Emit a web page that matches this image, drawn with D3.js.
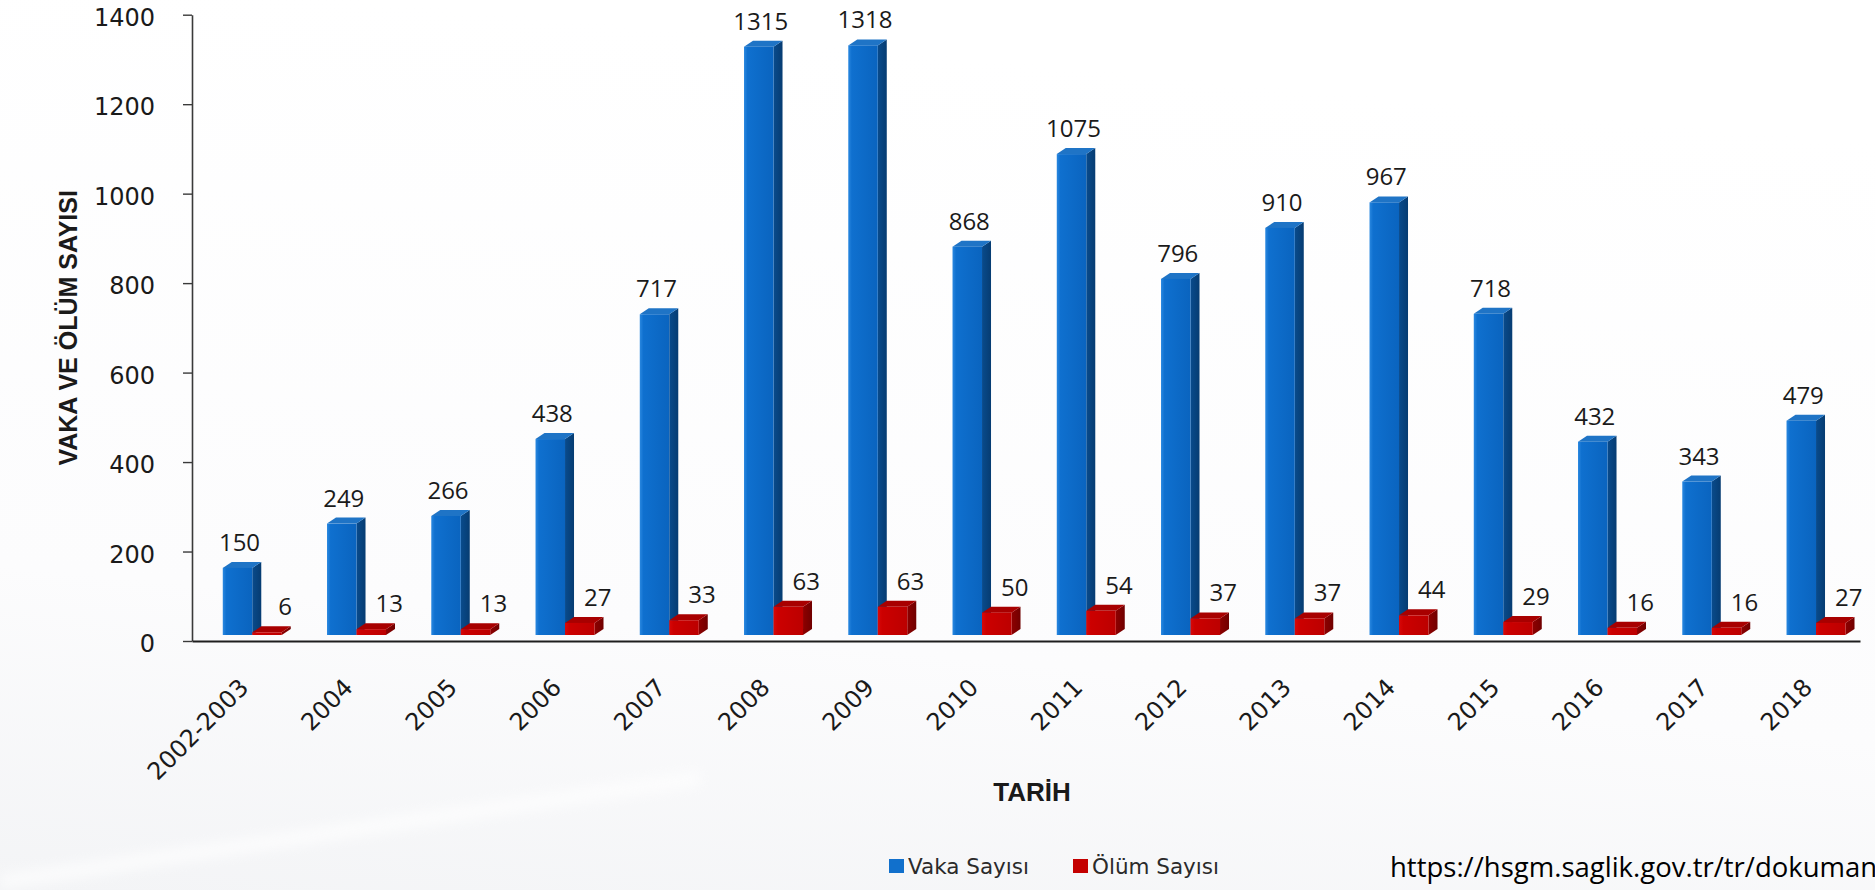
<!DOCTYPE html>
<html lang="tr">
<head>
<meta charset="utf-8">
<title>Vaka ve Ölüm Sayısı</title>
<script src="https://cdn.jsdelivr.net/npm/d3@7"></script>
<style>
  html, body { margin: 0; padding: 0; background: #ffffff; overflow: hidden; }
  svg { display: block; }
</style>
</head>
<body>
<svg id="chart" width="1875" height="890"></svg>
<script>
// Yıllara göre vaka ve ölüm sayıları
const categories = ["2002-2003", "2004", "2005", "2006", "2007", "2008", "2009", "2010",
                    "2011", "2012", "2013", "2014", "2015", "2016", "2017", "2018"];
const vakaSayisi = [150, 249, 266, 438, 717, 1315, 1318, 868, 1075, 796, 910, 967, 718, 432, 343, 479];
const olumSayisi = [6, 13, 13, 27, 33, 63, 63, 50, 54, 37, 37, 44, 29, 16, 16, 27];
const seriesNames = ["Vaka Sayısı", "Ölüm Sayısı"];
const yTicks = [0, 200, 400, 600, 800, 1000, 1200, 1400];
const yTitle = "VAKA VE ÖLÜM SAYISI";
const xTitle = "TARİH";
const sourceText = "https://hsgm.saglik.gov.tr/tr/dokuman";

const W = 1875, H = 890;
const plot = { left: 192, right: 1860, top: 14.7, bottom: 641 };
const depth = { dx: 9, dy: 6 };   // oblique 3D offset of the columns
const floorLift = 6;              // columns stand slightly above the axis line

const svg = d3.select("#chart");
const defs = svg.append("defs");

// soft slide background
const bg = defs.append("linearGradient").attr("id", "bgGrad")
  .attr("x1", "0.2").attr("y1", "0").attr("x2", "0").attr("y2", "1");
bg.append("stop").attr("offset", "0").attr("stop-color", "#ffffff");
bg.append("stop").attr("offset", "0.65").attr("stop-color", "#fcfcfd");
bg.append("stop").attr("offset", "1").attr("stop-color", "#f3f4f6");
svg.append("rect").attr("width", W).attr("height", H).attr("fill", "url(#bgGrad)");
defs.append("filter").attr("id", "soft").append("feGaussianBlur").attr("stdDeviation", 6);
svg.append("path")
  .attr("d", `M0,${H - 16} L700,${H - 120} L700,${H - 104} L0,${H} Z`)
  .attr("fill", "#ffffff").attr("opacity", 0.6).attr("filter", "url(#soft)");

// column shading
function grad(id, stops) {
  const g = defs.append("linearGradient").attr("id", id)
    .attr("x1", "0").attr("y1", "0").attr("x2", "1").attr("y2", "0");
  stops.forEach(([o, c]) => g.append("stop").attr("offset", o).attr("stop-color", c));
}
grad("blueFront", [[0, "#2a88e0"], [0.12, "#0f70cf"], [1, "#0a64bf"]]);
grad("blueSide", [[0, "#094b8c"], [1, "#063c72"]]);
grad("redFront", [[0, "#d80808"], [0.15, "#cc0000"], [1, "#bc0000"]]);
grad("redSide", [[0, "#8e0000"], [1, "#700000"]]);

const palette = {
  "Vaka Sayısı": { front: "url(#blueFront)", side: "url(#blueSide)", top: "#1f74c6", legend: "#1170cc" },
  "Ölüm Sayısı": { front: "url(#redFront)", side: "url(#redSide)", top: "#a80000", legend: "#c40000" }
};

// scales
const x0 = d3.scaleBand().domain(categories).range([plot.left, plot.right]).padding(0);
const x1 = d3.scaleBand().domain(seriesNames).range([0, x0.bandwidth()])
  .paddingInner(0).paddingOuter(0.767).align(0.68);
const y = d3.scaleLinear().domain([0, 1400]).range([plot.bottom, plot.top]);

const rows = categories.map((c, i) => ({
  cat: c,
  values: [
    { key: seriesNames[0], value: vakaSayisi[i] },
    { key: seriesNames[1], value: olumSayisi[i] }
  ]
}));

// y axis
const yAxis = svg.append("g")
  .attr("transform", `translate(${plot.left},0)`)
  .call(d3.axisLeft(y).tickValues(yTicks).tickFormat(d3.format("d"))
    .tickSize(9).tickSizeOuter(0).tickPadding(28));
yAxis.select(".domain").attr("stroke", "#3a3a3a").attr("stroke-width", 1.6);
yAxis.selectAll(".tick line").attr("stroke", "#3a3a3a").attr("stroke-width", 1.4);
yAxis.selectAll(".tick text")
  .attr("font-family", "'DejaVu Sans', sans-serif").attr("font-size", 24)
  .attr("fill", "#1a1a1a").attr("dy", "0.45em");

// columns
const groups = svg.append("g").selectAll("g.cat").data(rows).join("g")
  .attr("class", "cat")
  .attr("transform", d => `translate(${x0(d.cat)},0)`);

const bars = groups.selectAll("g.bar").data(d => d.values).join("g").attr("class", "bar");

bars.each(function (d) {
  const g = d3.select(this);
  const xl = x1(d.key), w = x1.bandwidth();
  const yb = y(0) - floorLift, yt = y(d.value) - floorLift;
  const { dx, dy } = depth;
  const col = palette[d.key];
  // side face
  g.append("path")
    .attr("d", `M${xl + w},${yt} L${xl + w + dx},${yt - dy} L${xl + w + dx},${yb - dy} L${xl + w},${yb} Z`)
    .attr("fill", col.side);
  // top face
  g.append("path")
    .attr("d", `M${xl},${yt} L${xl + dx},${yt - dy} L${xl + w + dx},${yt - dy} L${xl + w},${yt} Z`)
    .attr("fill", col.top);
  // front face
  g.append("rect")
    .attr("x", xl).attr("y", yt).attr("width", w).attr("height", yb - yt)
    .attr("fill", col.front);
});

// value labels
bars.append("text")
  .attr("x", d => x1(d.key) + x1.bandwidth() / 2 + (d.key === seriesNames[0] ? 2 : 18))
  .attr("y", d => y(d.value) - floorLift - depth.dy - 11)
  .attr("text-anchor", "middle")
  .attr("font-family", "'Open Sans', sans-serif").attr("font-size", 24)
  .attr("fill", "#1a1a1a")
  .text(d => d.value);

// x axis
const xAxis = svg.append("g")
  .attr("transform", `translate(0,${plot.bottom})`)
  .call(d3.axisBottom(x0).tickSize(0).tickSizeOuter(0));
xAxis.select(".domain").attr("stroke", "#1e1e1e").attr("stroke-width", 2.2);
xAxis.selectAll(".tick text")
  .attr("font-family", "'DejaVu Sans', sans-serif").attr("font-size", 24)
  .attr("fill", "#1a1a1a")
  .attr("text-anchor", "end")
  .attr("x", 0).attr("y", 0).attr("dy", 0)
  .attr("transform", "translate(6,48) rotate(-45)");

// axis titles
svg.append("text")
  .attr("transform", `translate(77,${(plot.top + plot.bottom) / 2}) rotate(-90)`)
  .attr("text-anchor", "middle")
  .attr("font-family", "'Liberation Sans', Arial, sans-serif").attr("font-weight", "bold")
  .attr("font-size", 25).attr("fill", "#1a1a1a")
  .text(yTitle);

svg.append("text")
  .attr("x", 1032).attr("y", 801)
  .attr("text-anchor", "middle")
  .attr("font-family", "'Liberation Sans', Arial, sans-serif").attr("font-weight", "bold")
  .attr("font-size", 26).attr("fill", "#1a1a1a")
  .text(xTitle);

// legend
const legendX = [889, 1073];
const legend = svg.append("g").selectAll("g").data(seriesNames).join("g")
  .attr("transform", (d, i) => `translate(${legendX[i]},859)`);
legend.append("rect").attr("width", 15).attr("height", 14)
  .attr("fill", d => palette[d].legend);
legend.append("text").attr("x", 19).attr("y", 14.5)
  .attr("font-family", "'DejaVu Sans', sans-serif").attr("font-size", 21.5)
  .attr("fill", "#2a2a2a")
  .text(d => d);

// source link
svg.append("text")
  .attr("x", 1390).attr("y", 877)
  .attr("font-family", "'Open Sans', sans-serif").attr("font-size", 27.5)
  .attr("fill", "#000000")
  .text(sourceText);
</script>
</body>
</html>
